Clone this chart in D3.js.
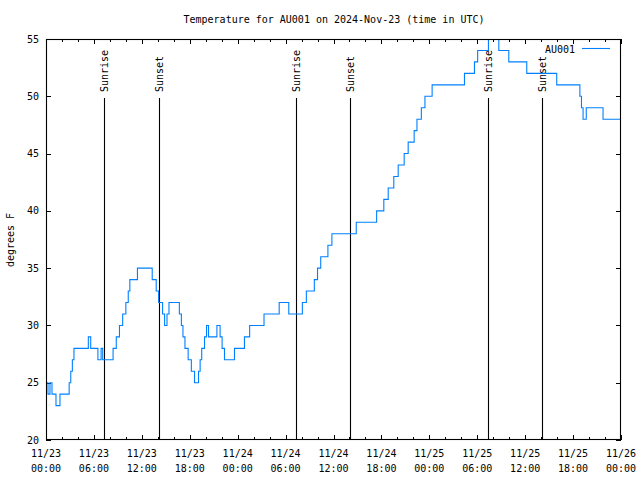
<!DOCTYPE html>
<html>
<head>
<meta charset="utf-8">
<script src="https://cdn.jsdelivr.net/npm/d3@7"></script>
<style>
  html, body { margin: 0; padding: 0; background: #fff; }
  svg { display: block; }
  text { font-family: "DejaVu Sans Mono", monospace; font-size: 10px; fill: #000; }
</style>
</head>
<body>
<svg id="chart" width="640" height="480"></svg>
<script>
// ---- data (hours since 2024-11-23 00:00 UTC, temperature in degrees F) ----
const hours = [0, 0.25, 0.5, 0.75, 1.25, 1.75, 2.9, 3.1, 3.3, 3.5, 5.3, 5.6, 6.5, 6.9, 7.1,
  8.4, 8.8, 9.2, 9.6, 10.0, 10.3, 10.5, 11.45, 13.3, 13.8, 14.1, 14.6, 14.85, 15.15, 15.4,
  16.7, 16.95, 17.15, 17.4, 17.8, 18.2, 18.6, 19.1, 19.3, 19.5, 19.85, 20.1, 20.35, 21.4,
  21.8, 22.05, 22.35, 23.6, 24.85, 25.5, 27.3, 29.2, 30.4, 32.1, 32.6, 33.6, 34.0, 34.4,
  35.3, 35.8, 38.85, 41.4, 42.3, 42.85, 43.55, 44.1, 44.85, 45.35, 46.1, 46.45, 47.0,
  47.45, 48.35, 52.4, 53.65, 54.05, 55.4, 56.7, 57.95, 60.2, 63.95, 66.85, 67.05, 67.25,
  67.65, 69.75, 72];
const temps = [25, 24, 25, 24, 23, 24, 25, 26, 27, 28, 29, 28, 27, 28, 27,
  28, 29, 30, 31, 32, 33, 34, 35, 34, 33, 32, 31, 30, 31, 32,
  31, 30, 29, 28, 27, 26, 25, 26, 27, 28, 29, 30, 29, 30,
  29, 28, 27, 28, 29, 30, 31, 32, 31, 32, 33, 34, 35, 36,
  37, 38, 39, 40, 41, 42, 43, 44, 45, 46, 47, 48, 49,
  50, 51, 52, 53, 54, 55, 54, 53, 52, 51, 50, 49, 48,
  49, 48, 48];
const sunriseHours = [7.3, 31.32, 55.37];
const sunsetHours = [14.17, 38.08, 62.13];
const yTickValues = [20, 25, 30, 35, 40, 45, 50, 55];
const xMajorHours = [0, 6, 12, 18, 24, 30, 36, 42, 48, 54, 60, 66, 72];
const seriesName = "AU001";
const titleText = "Temperature for AU001 on 2024-Nov-23 (time in UTC)";
const yLabel = "degrees F";

// ---- layout ----
const L = 46, R = 621, T = 39, B = 440;
const lineColor = "#0080ff";
const t0 = Date.UTC(2024, 10, 23, 0, 0);
const toDate = h => new Date(t0 + h * 3600 * 1000);

const svg = d3.select("#chart");
const x = d3.scaleUtc().domain([toDate(0), toDate(72)]).range([L, R]);
const y = d3.scaleLinear().domain([20, 55]).range([B, T]);

const data = hours.map((h, i) => ({ t: toDate(h), v: temps[i] }));

// clip
svg.append("defs").append("clipPath").attr("id", "clip")
  .append("rect").attr("x", L).attr("y", T).attr("width", R - L).attr("height", B - T);

// minor ticks every 2h
const minorDates = d3.range(0, 73, 2).filter(h => h % 6 !== 0).map(toDate);
const majorDates = xMajorHours.map(toDate);

function tickGroup(axis, tx, ty) {
  const g = svg.append("g").attr("transform", `translate(${tx},${ty})`).call(axis);
  g.select(".domain").remove();
  g.selectAll("line").attr("stroke", "#000").attr("stroke-width", 1).attr("shape-rendering", "crispEdges");
  g.selectAll("text").remove();
  return g;
}
tickGroup(d3.axisBottom(x).tickValues(minorDates).tickSizeInner(-3).tickSizeOuter(0), 0, B);
tickGroup(d3.axisBottom(x).tickValues(majorDates).tickSizeInner(-5).tickSizeOuter(0), 0, B);
tickGroup(d3.axisTop(x).tickValues(minorDates).tickSizeInner(-3).tickSizeOuter(0), 0, T);
tickGroup(d3.axisTop(x).tickValues(majorDates).tickSizeInner(-5).tickSizeOuter(0), 0, T);
tickGroup(d3.axisLeft(y).tickValues(yTickValues).tickSizeInner(-5).tickSizeOuter(0), L, 0);
tickGroup(d3.axisRight(y).tickValues(yTickValues).tickSizeInner(-5).tickSizeOuter(0), R, 0);

// y labels
svg.append("g").selectAll("text").data(yTickValues).join("text")
  .attr("x", L - 7).attr("y", d => y(d)).attr("dy", "0.35em")
  .attr("text-anchor", "end").text(d => d);

// x labels (two lines)
const fmtD = d3.utcFormat("%m/%d"), fmtT = d3.utcFormat("%H:%M");
const xl = svg.append("g").selectAll("text").data(majorDates).join("text")
  .attr("text-anchor", "middle");
xl.append("tspan").attr("x", d => x(d)).attr("y", 457).text(d => fmtD(d));
xl.append("tspan").attr("x", d => x(d)).attr("y", 472).text(d => fmtT(d));

// sun lines + labels
const sun = sunriseHours.map(h => ({ h, label: "Sunrise" }))
  .concat(sunsetHours.map(h => ({ h, label: "Sunset" })));
svg.append("g").selectAll("line").data(sun).join("line")
  .attr("x1", d => Math.round(x(toDate(d.h))) + 0.5).attr("x2", d => Math.round(x(toDate(d.h))) + 0.5)
  .attr("y1", 98).attr("y2", B)
  .attr("stroke", "#000").attr("stroke-width", 1.1);
svg.append("g").selectAll("text").data(sun).join("text")
  .attr("transform", d => `translate(${x(toDate(d.h)) + 0.5},92) rotate(-90)`)
  .attr("dy", "0.35em").attr("text-anchor", "start").text(d => d.label);

// series line
svg.append("path").datum(data)
  .attr("clip-path", "url(#clip)")
  .attr("fill", "none").attr("stroke", lineColor).attr("stroke-width", 1.1)
  .attr("d", d3.line().x(d => x(d.t)).y(d => y(d.v)).curve(d3.curveStepAfter));

// frame
svg.append("rect").attr("x", L + 0.5).attr("y", T + 0.5).attr("width", R - L - 1).attr("height", B - T - 1)
  .attr("fill", "none").attr("stroke", "#000").attr("stroke-width", 1.1);

// legend
svg.append("text").attr("x", 575).attr("y", 53).attr("text-anchor", "end").text(seriesName);
svg.append("line").attr("x1", 582).attr("x2", 610).attr("y1", 48.5).attr("y2", 48.5)
  .attr("stroke", lineColor).attr("stroke-width", 1.1);

// title
svg.append("text").attr("x", 334).attr("y", 23).attr("text-anchor", "middle").text(titleText);

// y axis title
svg.append("text").attr("transform", "translate(10,240) rotate(-90)")
  .attr("dy", "0.35em").attr("text-anchor", "middle").text(yLabel);
</script>
</body>
</html>
